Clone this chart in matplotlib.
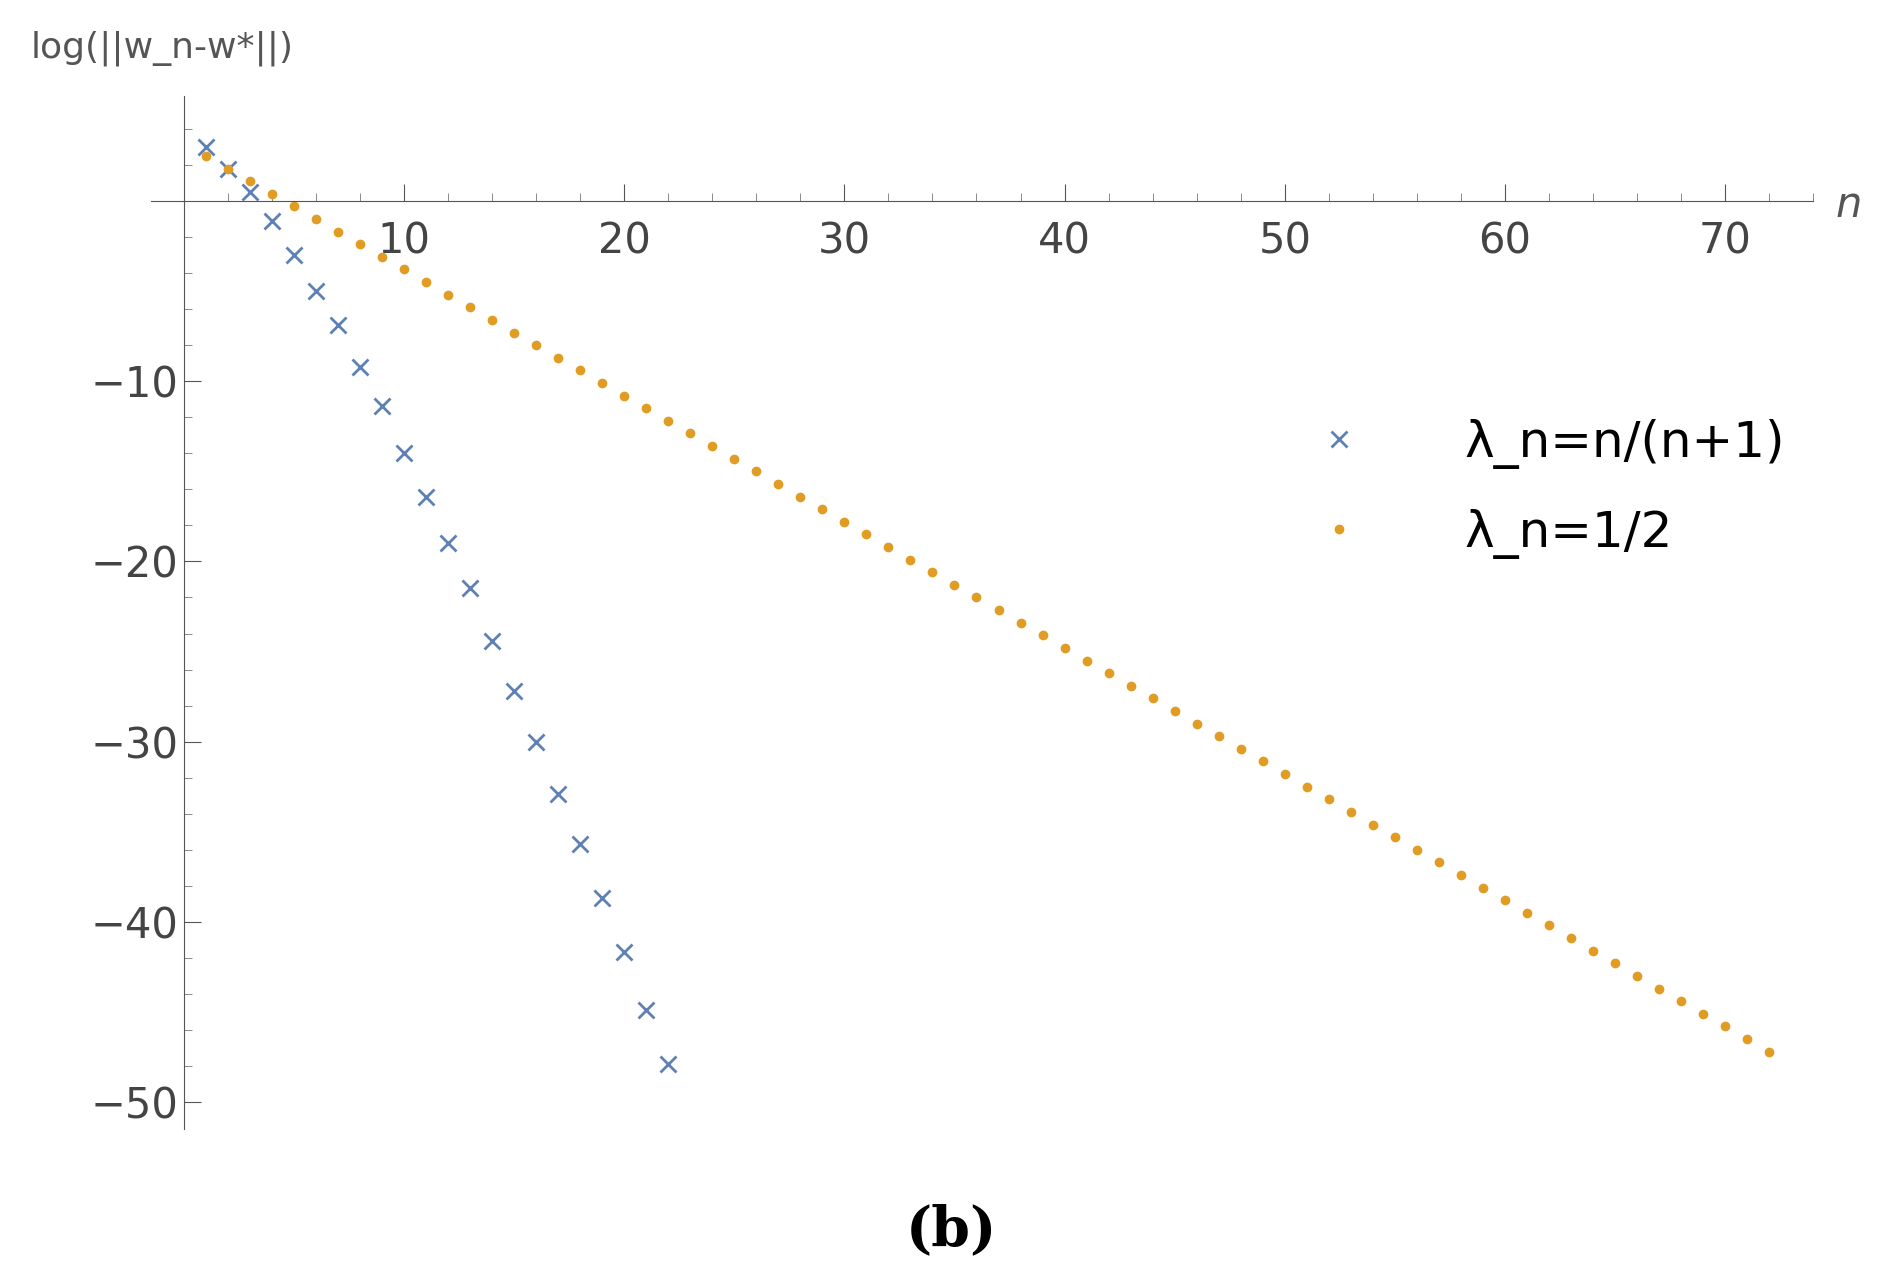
import numpy as np
from matplotlib import pyplot as plt
from matplotlib.ticker import MultipleLocator

# data
n_blue = list(range(1, 23))
y_blue = [3.0, 1.8, 0.5, -1.1, -3.0, -5.0, -6.9, -9.2, -11.4, -14.0, -16.4,
          -19.0, -21.5, -24.4, -27.2, -30.0, -32.9, -35.7, -38.7, -41.7, -44.9, -47.9]
n_orange = list(range(1, 73))
y_orange = [2.5, 1.8, 1.1, 0.4, -0.3, -1.0, -1.7, -2.4, -3.1, -3.8, -4.5, -5.2,
            -5.9, -6.6, -7.3, -8.0, -8.7, -9.4, -10.1, -10.8, -11.5, -12.2, -12.9, -13.6,
            -14.3, -15.0, -15.7, -16.4, -17.1, -17.8, -18.5, -19.2, -19.9, -20.6, -21.3, -22.0,
            -22.7, -23.4, -24.1, -24.8, -25.5, -26.2, -26.9, -27.6, -28.3, -29.0, -29.7, -30.4,
            -31.1, -31.8, -32.5, -33.2, -33.9, -34.6, -35.3, -36.0, -36.7, -37.4, -38.1, -38.8,
            -39.5, -40.2, -40.9, -41.6, -42.3, -43.0, -43.7, -44.4, -45.1, -45.8, -46.5, -47.2]

fig = plt.figure(figsize=(18.83, 12.86), dpi=100)
ax = fig.add_axes([0.08, 0.122, 0.883, 0.803])

ax.plot(n_blue, y_blue, 'x', color='#5e81b5', markersize=11, mew=2, label='λ_n=n/(n+1)')
ax.plot(n_orange, y_orange, 'o', color='#e19c24', markersize=6, label='λ_n=1/2')

ax.set_xlim(-1.5, 74)
ax.set_ylim(-51.5, 5.8)
ax.spines['left'].set_position(('data', 0))
ax.spines['bottom'].set_position(('data', 0))
ax.spines['top'].set_visible(False)
ax.spines['right'].set_visible(False)
for s in ['left', 'bottom']:
    ax.spines[s].set_color('#555555')
ax.set_xticks([10, 20, 30, 40, 50, 60, 70])
ax.set_yticks([-10, -20, -30, -40, -50])
ax.xaxis.set_minor_locator(MultipleLocator(2))
ax.yaxis.set_minor_locator(MultipleLocator(2))
ax.tick_params(which='major', direction='in', length=12, color='#555555', labelsize=30, labelcolor='#444444')
ax.tick_params(which='minor', direction='in', length=6, color='#777777')
ax.tick_params(axis='x', which='major', pad=14)

ax.text(-1.0, 8.5, 'log(||w_n-w*||)', fontsize=26, color='#555555', ha='center', va='center')
ax.text(75, -0.2, 'n', fontsize=30, style='italic', color='#555555', va='center')

leg = ax.legend(loc='center right', bbox_to_anchor=(1.01, 0.62), fontsize=36, frameon=False,
                handletextpad=1.5, labelspacing=0.8, markerscale=1.0)

fig.text(0.505, 0.043, '(b)', fontsize=40, fontweight='bold', family='DejaVu Serif', ha='center', va='center')
fig.savefig('out.png')
